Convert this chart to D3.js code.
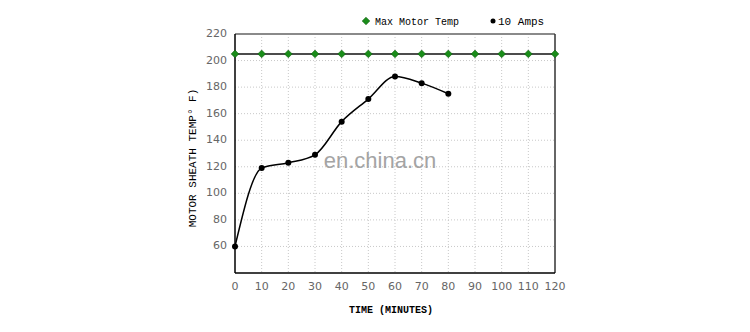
<!DOCTYPE html>
<html>
<head>
<meta charset="utf-8">
<script src="https://cdn.jsdelivr.net/npm/d3@7"></script>
<style>
  body { margin: 0; background: #fff; }
  .grid line { stroke: #c8c8c8; stroke-dasharray: 1,2; }
  .tick-label { font: 11px 'DejaVu Sans', sans-serif; fill: #666; }
  .mono { font-family: 'Liberation Mono', 'DejaVu Sans Mono', monospace; fill: #000; }
</style>
</head>
<body>
<svg id="chart" width="750" height="332"></svg>
<script>
// x axis ticks (minutes)
const minuteTicks = [0, 10, 20, 30, 40, 50, 60, 70, 80, 90, 100, 110, 120];
const tempTicks = [60, 80, 100, 120, 140, 160, 180, 200, 220];

// Max Motor Temp series
const maxTempMinutes = [0, 10, 20, 30, 40, 50, 60, 70, 80, 90, 100, 110, 120];
const maxTempValues = [205, 205, 205, 205, 205, 205, 205, 205, 205, 205, 205, 205, 205];

// 10 Amps series
const ampsMinutes = [0, 10, 20, 30, 40, 50, 60, 70, 80];
const ampsValues = [60, 119, 123, 129, 154, 171, 188, 183, 175];

const svg = d3.select('#chart'),
  margin = {top: 34, right: 195, bottom: 59, left: 235},
  width = +svg.attr('width') - margin.left - margin.right,
  height = +svg.attr('height') - margin.top - margin.bottom,
  g = svg.append('g').attr('transform', 'translate(' + margin.left + ',' + margin.top + ')');

const x = d3.scaleLinear().domain([0, 120]).range([0, width]);
const y = d3.scaleLinear().domain([40, 220]).range([height, 0]);

// square symbol turned 45deg, same look as the original markers
const diamond = d3.symbol(d3.symbolSquare, 30);

// grid
const grid = g.append('g').attr('class', 'grid');
grid.selectAll('.vx').data(minuteTicks.slice(1, -1)).enter().append('line')
  .attr('x1', d => x(d)).attr('x2', d => x(d)).attr('y1', 0).attr('y2', height);
grid.selectAll('.hy').data(tempTicks.slice(0, -1)).enter().append('line')
  .attr('x1', 0).attr('x2', width).attr('y1', d => y(d)).attr('y2', d => y(d));

// frame
g.append('line').attr('x1', 0).attr('x2', width).attr('y1', 0).attr('y2', 0)
  .attr('stroke', '#8a8a8a').attr('stroke-width', 2);
g.append('line').attr('x1', width).attr('x2', width).attr('y1', 0).attr('y2', height)
  .attr('stroke', '#333').attr('stroke-width', 1.5);
g.append('line').attr('x1', 0).attr('x2', 0).attr('y1', 0).attr('y2', height)
  .attr('stroke', '#000').attr('stroke-width', 1.5);
g.append('line').attr('x1', 0).attr('x2', width).attr('y1', height).attr('y2', height)
  .attr('stroke', '#000').attr('stroke-width', 1.5);

// tick labels
g.selectAll('.xl').data(minuteTicks).enter().append('text')
  .attr('class', 'tick-label')
  .attr('x', d => x(d)).attr('y', height + 14)
  .attr('text-anchor', 'middle').attr('dominant-baseline', 'middle')
  .text(d => d);
g.selectAll('.yl').data(tempTicks).enter().append('text')
  .attr('class', 'tick-label')
  .attr('x', -8).attr('y', d => y(d))
  .attr('text-anchor', 'end').attr('dominant-baseline', 'middle')
  .text(d => d);

// axis titles
svg.append('text').attr('class', 'mono')
  .attr('x', 391).attr('y', 313)
  .attr('text-anchor', 'middle')
  .style('font-size', '10px').style('font-weight', 'bold')
  .text('TIME (MINUTES)');
svg.append('text').attr('class', 'mono')
  .attr('transform', 'translate(196,158) rotate(-90)')
  .attr('text-anchor', 'middle')
  .style('font-size', '11px')
  .text('MOTOR SHEATH TEMP° F)');

// watermark
svg.append('text')
  .attr('x', 380).attr('y', 168)
  .attr('text-anchor', 'middle')
  .style('font', '22px "Liberation Sans", Arial, sans-serif')
  .style('fill', '#a4a4a4')
  .text('en.china.cn');

// max temp line
const maxData = maxTempMinutes.map((m, i) => ({m: m, v: maxTempValues[i]}));
const straight = d3.line().x(d => x(d.m)).y(d => y(d.v));
g.append('path').datum(maxData)
  .attr('d', straight).attr('fill', 'none').attr('stroke', '#111').attr('stroke-width', 1.5);
g.selectAll('.diamond').data(maxData).enter().append('path')
  .attr('transform', d => 'translate(' + x(d.m) + ',' + y(d.v) + ') rotate(45)')
  .attr('d', diamond)
  .attr('fill', '#1a8c1a').attr('stroke', '#0d5a0d').attr('stroke-width', 0.5);

// 10 amps line
const ampsData = ampsMinutes.map((m, i) => ({m: m, v: ampsValues[i]}));
const smooth = d3.line().curve(d3.curveMonotoneX).x(d => x(d.m)).y(d => y(d.v));
g.append('path').datum(ampsData)
  .attr('d', smooth).attr('fill', 'none').attr('stroke', '#000').attr('stroke-width', 1.5);
g.selectAll('.dot').data(ampsData).enter().append('circle')
  .attr('cx', d => x(d.m)).attr('cy', d => y(d.v)).attr('r', 3).attr('fill', '#000');

// legend
const legend = svg.append('g').attr('transform', 'translate(366,21)');
legend.append('path').attr('d', diamond).attr('transform', 'rotate(45)')
  .attr('fill', '#1a8c1a').attr('stroke', '#0d5a0d').attr('stroke-width', 0.5);
legend.append('text').attr('class', 'mono').attr('x', 9).attr('y', 4)
  .style('font-size', '10px').text('Max Motor Temp');
legend.append('circle').attr('cx', 127).attr('cy', 0).attr('r', 2.5).attr('fill', '#000');
legend.append('text').attr('class', 'mono').attr('x', 132).attr('y', 4)
  .style('font-size', '11px').text('10 Amps');
</script>
</body>
</html>
